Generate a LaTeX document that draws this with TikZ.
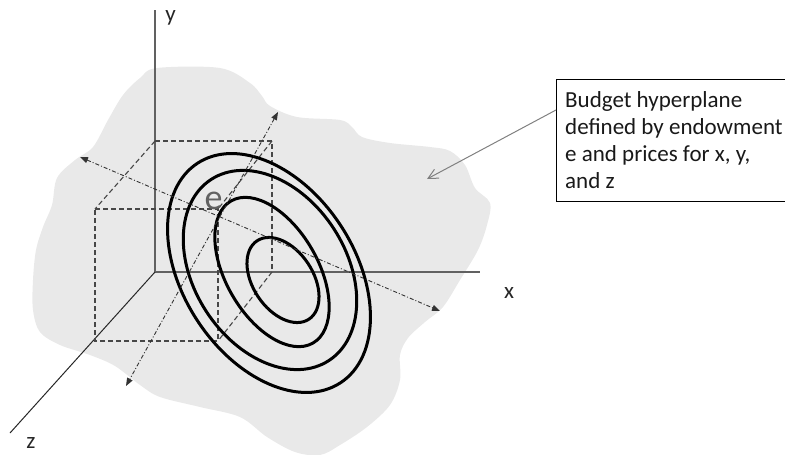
\documentclass[tikz,border=0pt]{standalone}
\usepackage{fontspec}
\setmainfont{Carlito}
\usetikzlibrary{arrows.meta}
\begin{document}
\begin{tikzpicture}[x=1pt,y=-1pt,
  axisline/.style={draw=black!62, line width=1.5pt},
  zaxisline/.style={draw=black!85, line width=1pt},
  boxedge/.style={draw=black!72, line width=1.1pt, dash pattern=on 5pt off 3pt},
  guide/.style={draw=black!80, line width=0.9pt,
    dash pattern=on 4pt off 2pt on 1pt off 2pt,
    {Triangle[length=8pt,width=6pt]}-{Triangle[length=8pt,width=6pt]}},
  level/.style={draw=black, line width=3pt},
  lbl/.style={font=\fontsize{23}{27}\selectfont, text=black!85, inner sep=0pt},
]
\useasboundingbox (0,0) rectangle (785,455);

% budget hyperplane (shaded region)
\fill[gray!17] plot[smooth cycle, tension=0.55] coordinates {
  (157,68) (220,68) (250,83) (262,96) (270,106) (297,117) (340,120)
  (352,127) (362,137) (390,143) (430,147) (450,151) (465,165)
  (475,188) (490,203) (487,225) (478,250) (460,280) (443,307)
  (425,322) (408,338) (400,355) (400,380) (390,405) (367,427)
  (340,445) (320,455) (295,452) (267,437) (240,417) (200,407)
  (160,397) (140,385) (115,366) (90,355) (60,345) (40,332)
  (33,310) (33,280) (36,250) (43,227) (52,205) (57,178) (75,160)
  (93,147) (108,120) (123,95) (140,78)
};

% axes
\coordinate (O) at (155,272);
\coordinate (ytop) at (155,10);
\coordinate (xend) at (480,272);
\coordinate (zend) at (10,433);
\draw[axisline] (O) -- (ytop);
\draw[axisline] (O) -- (xend);
\draw[zaxisline] (O) -- (zend);

% dashed box spanned by the endowment point
\coordinate (bx) at (272,272);
\coordinate (by) at (155,141);
\coordinate (bxy) at (272,141);
\coordinate (fz) at (95,341);
\coordinate (fyz) at (95,209);
\coordinate (fxyz) at (218,209);
\coordinate (fxz) at (218,341);
\draw[boxedge] (by) -- (bxy) -- (bx);
\draw[boxedge] (by) -- (fyz);
\draw[boxedge] (bxy) -- (fxyz);
\draw[boxedge] (bx) -- (fxz);
\draw[boxedge] (fyz) -- (fxyz) -- (fxz) -- (fz) -- cycle;

% indifference contours
\draw[level, shift={(269,273)}, rotate=-57] (0,0) ellipse [x radius=131pt, y radius=86pt];
\draw[level, shift={(270,270)}, rotate=-57] (0,0) ellipse [x radius=108pt, y radius=76pt];
\draw[level, shift={(272,272)}, rotate=-60] (0,0) ellipse [x radius=82pt, y radius=46pt];
\draw[level, shift={(283,280)}, rotate=-56.5] (0,0) ellipse [x radius=47pt, y radius=30pt];

% directions within the hyperplane
\coordinate (g1a) at (80,157);
\coordinate (g1b) at (440,311);
\coordinate (g2a) at (278,112);
\coordinate (g2b) at (126,386);
\draw[guide] (g1a) -- (g1b);
\draw[guide] (g2a) -- (g2b);

% labels
\node[lbl, anchor=base] (ylbl) at (170.5,21) {y};
\node[lbl, anchor=base] (xlbl) at (509,298) {x};
\node[lbl, anchor=base] (zlbl) at (31,448) {z};
\node[font=\fontsize{36}{40}\selectfont, text=black!62, inner sep=0pt, anchor=base] (elbl) at (213.5,209.5) {e};

% callout
\node[draw=black, line width=1pt, minimum width=230pt, minimum height=122pt,
  anchor=north west, inner sep=0pt] (callout) at (556,79) {};
\node[lbl, anchor=base west, align=left, text=black!90] (callouttext) at (565,188)
  {Budget hyperplane\\defined by endowment\\e and prices for x, y,\\and z};
\coordinate (tail) at (556,110);
\coordinate (planept) at (427,179);
\draw[draw=black!50, line width=1pt, -{Straight Barb[length=10pt,width=10pt]}] (tail) -- (planept);
\end{tikzpicture}
\end{document}
